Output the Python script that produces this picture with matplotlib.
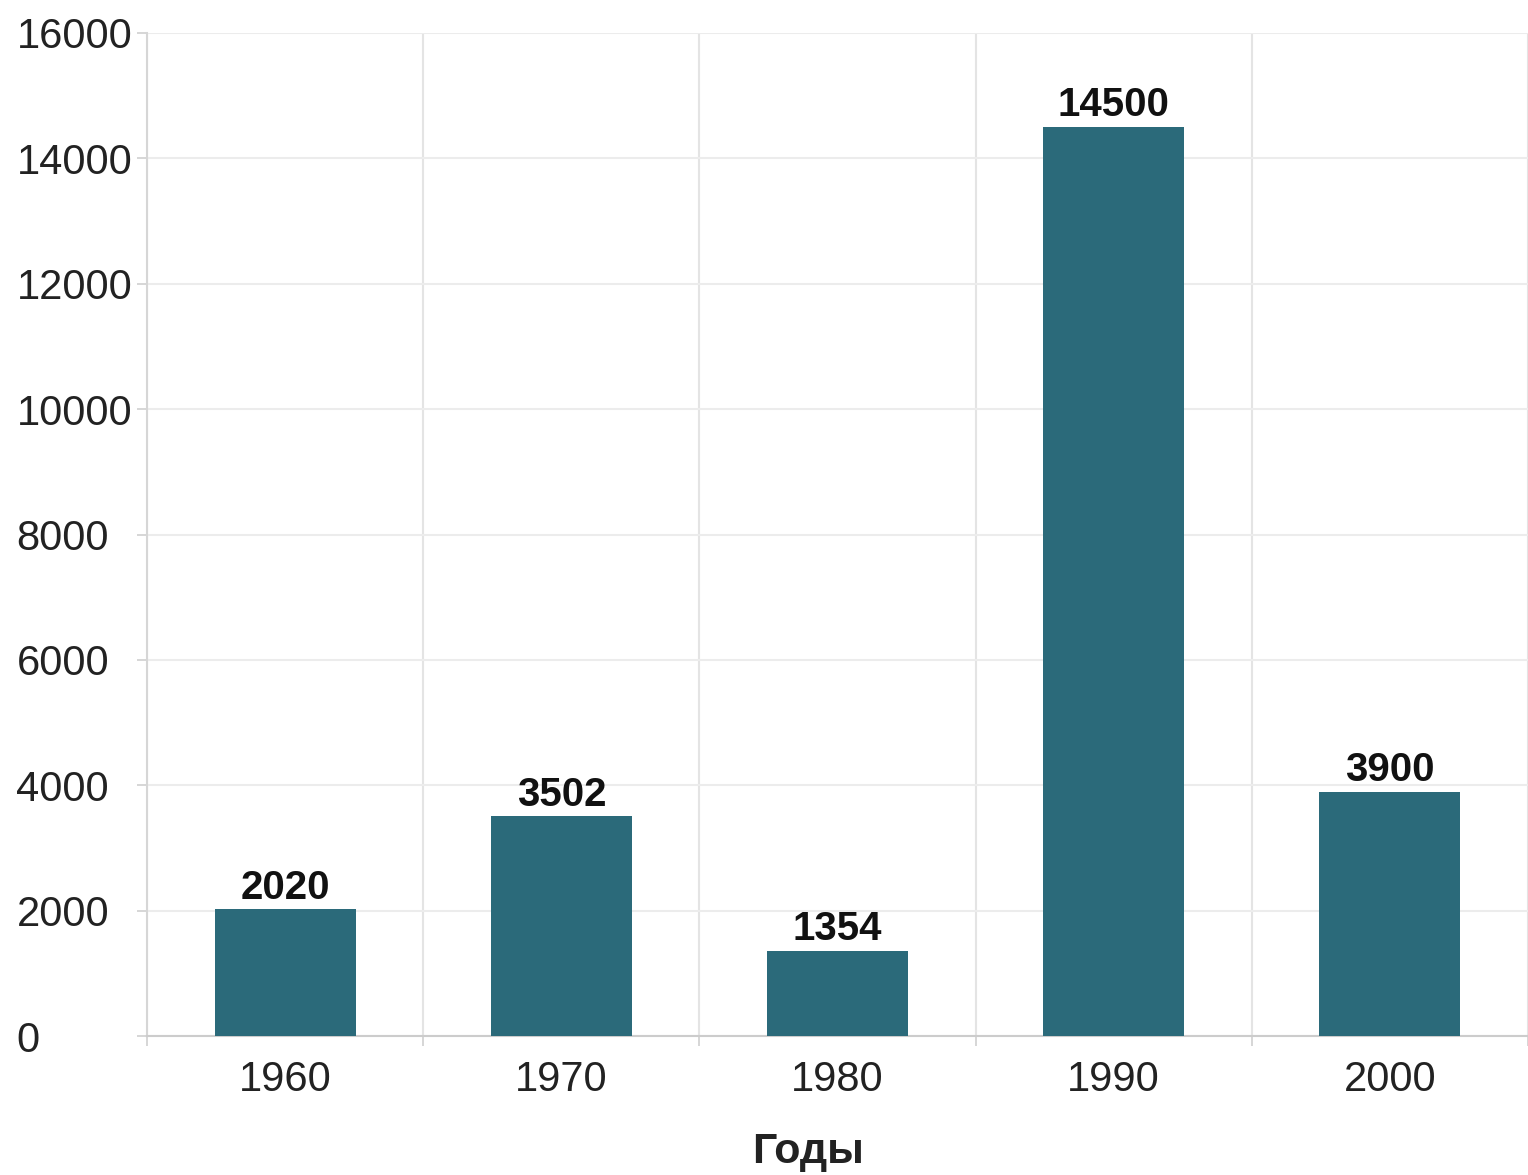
import matplotlib
matplotlib.use("Agg")
import matplotlib.pyplot as plt
import numpy as np

years = ["1960", "1970", "1980", "1990", "2000"]
values = [2020, 3502, 1354, 14500, 3900]
y_ticks = [0, 2000, 4000, 6000, 8000, 10000, 12000, 14000, 16000]
x_label = "Годы"

plt.rcParams['font.family'] = ['Liberation Sans', 'DejaVu Sans']

fig = plt.figure(figsize=(15.28, 11.75), dpi=100)
ax = fig.add_axes([147/1528, 1 - 1036/1175, 1 - 147/1528, (1036 - 33)/1175])

x = np.arange(len(years))
bar_color = "#2b6a7a"
ax.bar(x, values, width=0.51, color=bar_color, zorder=3)

for xi, v in zip(x, values):
    ax.annotate(str(v), (xi, v), xytext=(0, 2), textcoords="offset points",
                ha="center", va="bottom", fontsize=29, fontweight="bold",
                color="#111111", zorder=4)

ax.set_xlim(-0.5, len(years) - 0.5)
ax.set_ylim(0, 16000)

ax.set_xticks(x)
ax.set_xticklabels(years)
ax.set_xticks(np.arange(-0.5, len(years)), minor=True)
ax.set_yticks(y_ticks)
ax.set_yticklabels([str(t) for t in y_ticks])

ax.tick_params(axis="x", which="major", length=0, pad=17, labelsize=30, labelcolor="#222222")
ax.tick_params(axis="x", which="minor", length=7, width=1.2, color="#cfcfcf", direction="out")
ax.tick_params(axis="y", which="major", length=7, width=1.2, color="#cfcfcf", pad=87,
               labelsize=30, labelcolor="#222222")
for lab in ax.get_yticklabels():
    lab.set_horizontalalignment("left")

ax.grid(True, axis="y", which="major", color="#ececec", linewidth=1.5, zorder=0)
ax.grid(True, axis="x", which="minor", color="#e4e4e4", linewidth=1.5, zorder=0)
ax.grid(False, axis="x", which="major")
ax.set_axisbelow(True)

for s in ["top", "right"]:
    ax.spines[s].set_visible(False)
ax.spines["left"].set_color("#d6d6d6")
ax.spines["left"].set_linewidth(1.5)
ax.spines["bottom"].set_color("#cccccc")
ax.spines["bottom"].set_linewidth(1.5)

ax.set_xlabel(x_label, fontsize=31, fontweight="bold", color="#222222", labelpad=23)
ax.xaxis.label.set_x(0.479)

fig.savefig("out.png", dpi=100)
